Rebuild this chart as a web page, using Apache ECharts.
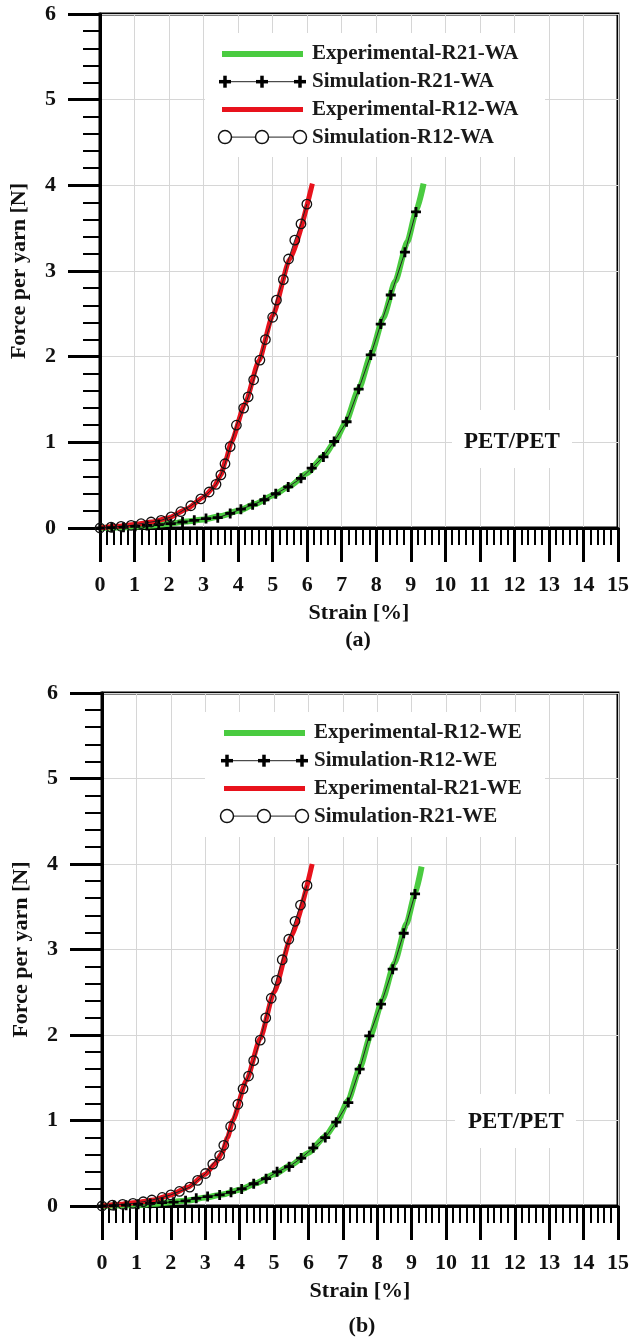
<!DOCTYPE html>
<html>
<head>
<meta charset="utf-8">
<script src="https://cdn.jsdelivr.net/npm/echarts@6/dist/echarts.min.js"></script>
<style>
  html, body { margin: 0; padding: 0; background: #fff; }
  #chart { width: 632px; height: 1341px; }
</style>
</head>
<body>
<div id="chart"></div>
<script>
// (a) warp direction  [strain %, force N]
const expR21WA = [[0,0],[0.5,0.005],[1,0.015],[1.5,0.03],[2,0.05],[2.5,0.075],[3,0.1],[3.5,0.14],[4,0.2],[4.5,0.28],[5,0.38],[5.5,0.49],[6,0.64],[6.5,0.85],[6.8,1.01],[7.1,1.22],[7.5,1.63],[7.85,2.03],[8.2,2.45],[8.55,2.88],[8.9,3.34],[9.15,3.69],[9.37,4.02]];
const simR21WA = [[0,0],[0.34,0.005],[0.68,0.01],[1.02,0.02],[1.36,0.03],[1.7,0.04],[2.05,0.05],[2.39,0.07],[2.73,0.09],[3.07,0.11],[3.41,0.12],[3.77,0.17],[4.08,0.22],[4.42,0.27],[4.76,0.33],[5.09,0.4],[5.45,0.48],[5.82,0.58],[6.13,0.7],[6.47,0.83],[6.78,1.01],[7.14,1.24],[7.49,1.62],[7.84,2.02],[8.13,2.38],[8.42,2.72],[8.83,3.22],[9.15,3.69]];
const expR12WA = [[0,0],[0.5,0.02],[1,0.04],[1.5,0.07],[2,0.12],[2.5,0.22],[3,0.36],[3.3,0.48],[3.5,0.62],[3.65,0.8],[3.8,1.0],[4.2,1.45],[4.6,1.95],[5,2.48],[5.5,3.14],[6.15,4.02]];
const simR12WA = [[0,0],[0.32,0.01],[0.61,0.02],[0.9,0.03],[1.19,0.05],[1.48,0.07],[1.77,0.09],[2.06,0.13],[2.34,0.19],[2.63,0.26],[2.92,0.34],[3.16,0.42],[3.36,0.51],[3.5,0.62],[3.62,0.75],[3.77,0.95],[3.95,1.2],[4.16,1.4],[4.29,1.53],[4.45,1.73],[4.63,1.96],[4.79,2.2],[5,2.46],[5.11,2.66],[5.31,2.9],[5.46,3.14],[5.64,3.36],[5.82,3.55],[5.99,3.78]];

// (b) weft direction
const expR12WE = [[0,0],[0.5,0.005],[1,0.012],[1.5,0.025],[2,0.045],[2.5,0.065],[3,0.1],[3.5,0.135],[4,0.19],[4.5,0.27],[5,0.37],[5.5,0.48],[6,0.62],[6.5,0.82],[6.85,1.0],[7.15,1.23],[7.5,1.62],[7.8,1.99],[8.15,2.41],[8.5,2.84],[8.85,3.3],[9.1,3.65],[9.29,3.97]];
const simR12WE = [[0,0],[0.35,0.005],[0.7,0.01],[1.05,0.02],[1.4,0.03],[1.75,0.04],[2.08,0.045],[2.43,0.06],[2.74,0.09],[3.07,0.11],[3.42,0.13],[3.75,0.16],[4.06,0.2],[4.41,0.26],[4.77,0.32],[5.09,0.4],[5.44,0.46],[5.79,0.56],[6.14,0.68],[6.49,0.8],[6.81,0.98],[7.16,1.21],[7.49,1.6],[7.77,1.99],[8.11,2.36],[8.45,2.77],[8.77,3.19],[9.1,3.65]];
const expR21WE = [[0,0],[0.5,0.02],[1,0.04],[1.5,0.07],[2,0.13],[2.5,0.22],[3,0.37],[3.3,0.5],[3.5,0.63],[3.65,0.8],[3.8,1.0],[4.2,1.47],[4.6,1.96],[5,2.5],[5.5,3.15],[6.11,4.0]];
const simR21WE = [[0,0],[0.3,0.01],[0.6,0.02],[0.9,0.03],[1.2,0.05],[1.45,0.07],[1.75,0.1],[2,0.13],[2.25,0.17],[2.55,0.22],[2.78,0.3],[3.01,0.38],[3.22,0.49],[3.42,0.59],[3.54,0.71],[3.74,0.93],[3.95,1.19],[4.1,1.37],[4.26,1.52],[4.41,1.7],[4.6,1.94],[4.76,2.2],[4.92,2.43],[5.07,2.64],[5.24,2.88],[5.43,3.12],[5.61,3.33],[5.77,3.52],[5.96,3.75]];

const legendA = ['Experimental-R21-WA', 'Simulation-R21-WA', 'Experimental-R12-WA', 'Simulation-R12-WA'];
const legendB = ['Experimental-R12-WE', 'Simulation-R12-WE', 'Experimental-R21-WE', 'Simulation-R21-WE'];

const serif = '"Liberation Serif", "Times New Roman", serif';
const GREEN = '#4acb40';
const RED = '#e8121c';
const PLUS = 'path://M3.6,0H6.4V3.6H10V6.4H6.4V10H3.6V6.4H0V3.6H3.6Z';

const chart = echarts.init(document.getElementById('chart'));

function xAxisCfg(gi) {
  return {
    type: 'value', gridIndex: gi, min: 0, max: 15, interval: 1,
    name: 'Strain [%]', nameLocation: 'middle', nameGap: 74,
    nameTextStyle: { fontFamily: serif, fontWeight: 'bold', fontSize: 22, color: '#111' },
    axisLine: { onZero: false, lineStyle: { color: '#000', width: 3 } },
    axisTick: { inside: false, length: 34, lineStyle: { color: '#000', width: 3 } },
    minorTick: { show: true, splitNumber: 5, length: 17, lineStyle: { color: '#000', width: 2 } },
    axisLabel: { margin: 46, fontFamily: serif, fontWeight: 'bold', fontSize: 22, color: '#111' },
    splitLine: { show: true, lineStyle: { color: '#d6d6d6', width: 1 } }
  };
}

function yAxisCfg(gi) {
  return {
    type: 'value', gridIndex: gi, min: 0, max: 6, interval: 1,
    name: 'Force per yarn [N]', nameLocation: 'middle', nameGap: 70, nameRotate: 90,
    nameTextStyle: { fontFamily: serif, fontWeight: 'bold', fontSize: 22, color: '#111' },
    axisLine: { onZero: false, lineStyle: { color: '#000', width: 3 } },
    axisTick: { inside: false, length: 32, lineStyle: { color: '#000', width: 3 } },
    minorTick: { show: true, splitNumber: 5, length: 17, lineStyle: { color: '#000', width: 2 } },
    axisLabel: { margin: 44, fontFamily: serif, fontWeight: 'bold', fontSize: 22, color: '#111' },
    splitLine: { show: true, lineStyle: { color: '#d6d6d6', width: 1 } }
  };
}

function expSeries(name, data, color, width, gi) {
  return {
    name, type: 'line', xAxisIndex: gi, yAxisIndex: gi, data,
    smooth: 0.2, smoothMonotone: 'x', showSymbol: false,
    lineStyle: { color, width }, itemStyle: { color }
  };
}

function simSeries(name, data, symbol, gi) {
  const s = {
    name, type: 'line', xAxisIndex: gi, yAxisIndex: gi, data,
    lineStyle: { color: '#222', width: 1 }
  };
  if (symbol === 'plus') {
    s.symbol = PLUS; s.symbolSize = 10;
    s.itemStyle = { color: '#000' };
  } else {
    s.symbol = 'circle'; s.symbolSize = 9.5;
    s.itemStyle = { color: 'rgba(0,0,0,0)', borderColor: '#111', borderWidth: 1.3 };
  }
  return s;
}

// legend drawn by hand: line samples with three markers, like the original plot
function legendGraphic(box, x0, y0, labels) {
  const els = [{ type: 'rect', z: 10, shape: box, style: { fill: '#fff' } }];
  const gap = 27.7;
  labels.forEach((lab, i) => {
    const y = y0 + i * gap;
    if (i === 0 || i === 2) {
      els.push({ type: 'line', z: 11, shape: { x1: x0, y1: y, x2: x0 + 81, y2: y },
        style: { stroke: i === 0 ? GREEN : RED, lineWidth: i === 0 ? 6 : 5 } });
    } else {
      els.push({ type: 'line', z: 11, shape: { x1: x0, y1: y, x2: x0 + 80, y2: y },
        style: { stroke: '#222', lineWidth: 1 } });
      [x0 + 3, x0 + 40, x0 + 78].forEach(mx => {
        if (i === 1) {
          els.push({ type: 'line', z: 12, shape: { x1: mx - 6, y1: y, x2: mx + 6, y2: y }, style: { stroke: '#000', lineWidth: 3.5 } });
          els.push({ type: 'line', z: 12, shape: { x1: mx, y1: y - 6, x2: mx, y2: y + 6 }, style: { stroke: '#000', lineWidth: 3.5 } });
        } else {
          els.push({ type: 'circle', z: 12, shape: { cx: mx, cy: y, r: 6.5 }, style: { fill: '#fff', stroke: '#111', lineWidth: 1.5 } });
        }
      });
    }
    els.push({ type: 'text', z: 12, x: x0 + 90, y: y,
      style: { text: lab, fill: '#1a1a1a', font: 'bold 21px ' + serif, textVerticalAlign: 'middle' } });
  });
  return els;
}

function tagGraphic(cx, cy, box, txt) {
  return [
    { type: 'rect', z: 10, shape: box, style: { fill: '#fff' } },
    { type: 'text', z: 11, x: cx, y: cy,
      style: { text: txt, fill: '#111', font: 'bold 23px ' + serif, textAlign: 'center', textVerticalAlign: 'middle' } }
  ];
}

const option = {
  backgroundColor: '#fff',
  animation: false,
  grid: [
    { left: 99, top: 14, width: 519, height: 514, show: true, borderColor: '#000', borderWidth: 3 },
    { left: 102, top: 693, width: 519, height: 513, show: true, borderColor: '#000', borderWidth: 3 }
  ],
  xAxis: [xAxisCfg(0), xAxisCfg(1)],
  yAxis: [yAxisCfg(0), yAxisCfg(1)],
  graphic: [].concat(
    legendGraphic({ x: 205, y: 33, width: 340, height: 124 }, 222, 54, legendA),
    legendGraphic({ x: 205, y: 712, width: 340, height: 125 }, 224, 733, legendB),
    tagGraphic(512, 442, { x: 452, y: 410, width: 120, height: 58 }, 'PET/PET'),
    tagGraphic(516, 1122, { x: 455, y: 1094, width: 121, height: 54 }, 'PET/PET'),
    [
      { type: 'text', x: 358, y: 640, style: { text: '(a)', fill: '#111', font: 'bold 22px ' + serif, textAlign: 'center', textVerticalAlign: 'middle' } },
      { type: 'text', x: 362, y: 1326, style: { text: '(b)', fill: '#111', font: 'bold 22px ' + serif, textAlign: 'center', textVerticalAlign: 'middle' } }
    ]
  ),
  series: [
    expSeries(legendA[0], expR21WA, GREEN, 6, 0),
    simSeries(legendA[1], simR21WA, 'plus', 0),
    expSeries(legendA[2], expR12WA, RED, 5, 0),
    simSeries(legendA[3], simR12WA, 'circle', 0),
    expSeries(legendB[0], expR12WE, GREEN, 6, 1),
    simSeries(legendB[1], simR12WE, 'plus', 1),
    expSeries(legendB[2], expR21WE, RED, 5, 1),
    simSeries(legendB[3], simR21WE, 'circle', 1)
  ]
};

chart.setOption(option);
</script>
</body>
</html>
